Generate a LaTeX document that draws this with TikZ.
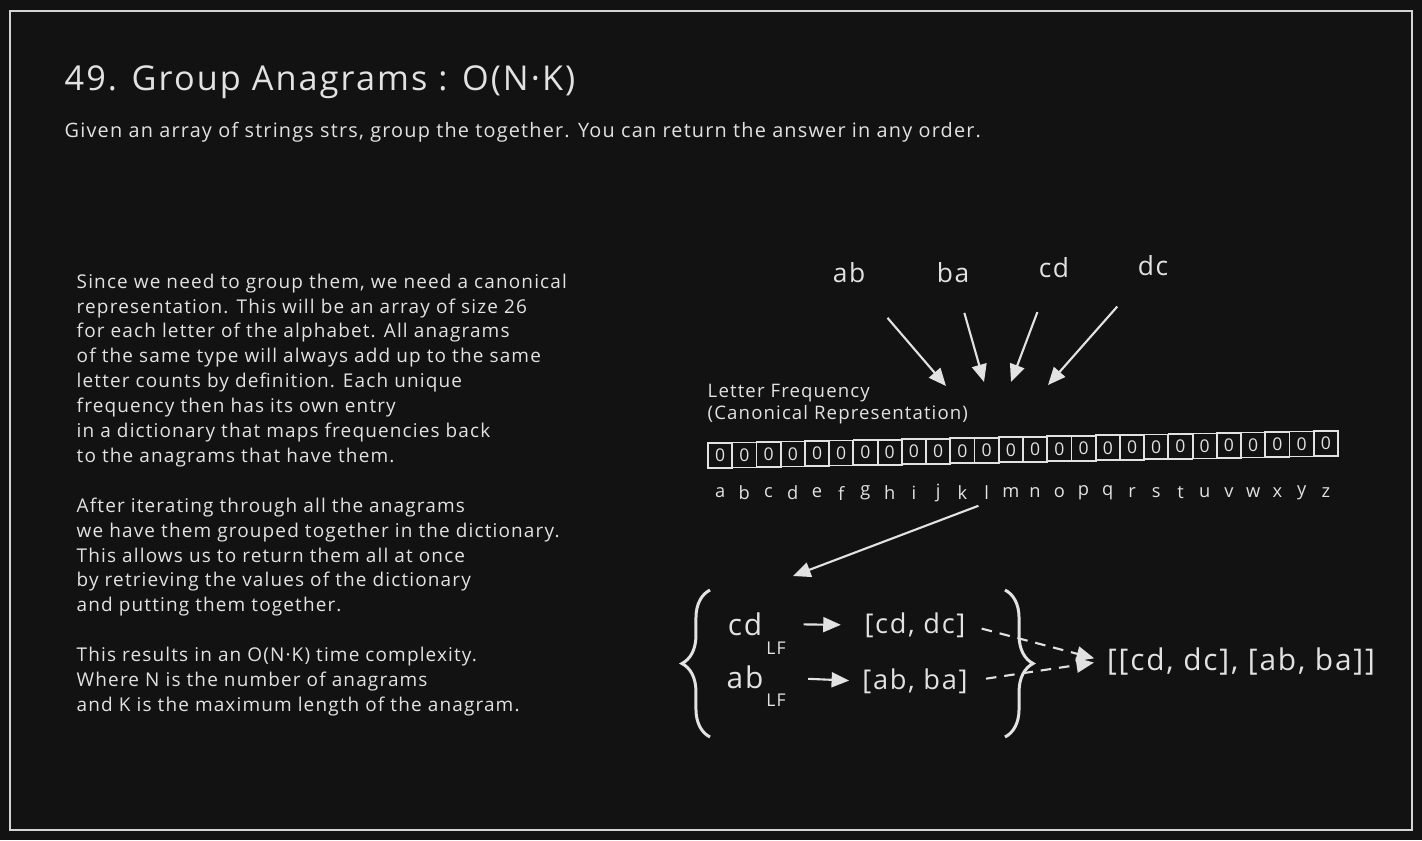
\documentclass[tikz,border=0pt]{standalone}
\usepackage{fontspec}
\setmainfont{Open Sans}[LetterSpace=6]
\usetikzlibrary{arrows.meta,decorations.pathreplacing}
\definecolor{board}{HTML}{121212}
\definecolor{chalk}{HTML}{E2E2E2}
\definecolor{rim}{HTML}{D4D4D4}

\begin{document}
\begin{tikzpicture}[x=.02cm,y=-.02cm,>={Triangle[length=10pt,width=8.5pt]},line width=1.1pt,every node/.style={text=chalk,inner sep=1pt},
  headline/.style={anchor=west,font=\fontsize{19.5}{23}\selectfont},
  para/.style={anchor=north west,align=left,font=\fontsize{10.8}{14.17}\selectfont},
  word/.style={font=\fontsize{15}{18}\selectfont},
  key/.style={font=\fontsize{17}{20}\selectfont},
  sub/.style={font=\fontsize{10}{12}\selectfont},
  group/.style={font=\fontsize{15.5}{18}\selectfont},
  cell/.style={draw=chalk,line width=1pt,minimum width=.484cm,minimum height=.5cm,inner sep=0pt,font=\fontsize{10}{12}\selectfont},
  flow/.style={->,draw=chalk,line width=1.2pt},
  link/.style={->,draw=chalk,line width=1.2pt,dash pattern=on 6pt off 4.5pt},
  curly/.style={decorate,decoration={brace,amplitude=16pt},draw=chalk,line width=1.7pt}]
\path[use as bounding box] (0,0) rectangle (1422,840);
\fill[board] (0,0) rectangle (1422,840);
\draw[rim,line width=1.2pt] (10,11) rectangle (1412,830);

\node[headline] (head) at (62,82) {49. Group Anagrams : O(N·K)};
\node[anchor=west,font=\fontsize{11.3}{13}\selectfont] (task) at (62,132) {Given an array of strings strs, group the together. You can return the answer in any order.};

\node[para] (notes) at (74,271) {Since we need to group them, we need a canonical\\
representation. This will be an array of size 26\\
for each letter of the alphabet. All anagrams\\
of the same type will always add up to the same\\
letter counts by definition. Each unique\\
frequency then has its own entry\\
in a dictionary that maps frequencies back\\
to the anagrams that have them.\\[14.17pt]
After iterating through all the anagrams\\
we have them grouped together in the dictionary.\\
This allows us to return them all at once\\
by retrieving the values of the dictionary\\
and putting them together.\\[14.17pt]
This results in an O(N·K) time complexity.\\
Where N is the number of anagrams\\
and K is the maximum length of the anagram.};

\node[word] (ab) at (849,273) {ab};
\node[word] (ba) at (953,273) {ba};
\node[word] (cd) at (1054,268) {cd};
\node[word] (dc) at (1153,266) {dc};
\coordinate (hit-ab) at (946,386);
\coordinate (hit-ba) at (984,382);
\coordinate (hit-cd) at (1011,382);
\coordinate (hit-dc) at (1048,385);
\draw[flow,shorten <=24pt] (ab) -- (hit-ab);
\draw[flow,shorten <=16pt] (ba) -- (hit-ba);
\draw[flow,shorten <=19pt] (cd) -- (hit-cd);
\draw[flow,shorten <=21pt] (dc) -- (hit-dc);

\node[anchor=west,align=left,font=\fontsize{10.6}{13}\selectfont] (lfreq) at (705,404) {Letter Frequency\\(Canonical Representation)};
\foreach \ch [count=\i from 0] in {a,...,z}{
  \node[cell] (f-\ch) at (720.1+24.23*\i,455.5-.48*\i) {0};
  \node[font=\fontsize{10.4}{12}\selectfont] (let-\ch) at (720.1+24.23*\i,493) {\ch};
}

\coordinate (dict) at (793,576);
\draw[flow,shorten <=5pt] (let-l.south) -- (dict);

\draw[curly] (710,737) -- (710,590);
\node[key] (keyCD) at (745,624) {cd};
\node[sub] (lfCD) at (776,648) {LF};
\node[key] (keyAB) at (745,677) {ab};
\node[sub] (lfAB) at (776,700) {LF};
\node[group] (valCD) at (915,625) {[cd, dc]};
\node[group] (valAB) at (915,681) {[ab, ba]};
\draw[flow,shorten <=22pt,shorten >=12pt] (keyCD.east) -- (valCD.west);
\draw[flow,shorten <=24pt,shorten >=6pt] (keyAB.east) -- (valAB.west);
\draw[curly] (1005,590) -- (1005,737);

\node[group,font=\fontsize{17}{20}\selectfont] (result) at (1241,661) {[[cd, dc], [ab, ba]]};
\draw[link,shorten <=8pt,shorten >=6pt] (valCD.east) -- (result.west);
\draw[link,shorten <=9pt,shorten >=6pt] (valAB.east) -- (result.west);

\end{tikzpicture}
\end{document}
